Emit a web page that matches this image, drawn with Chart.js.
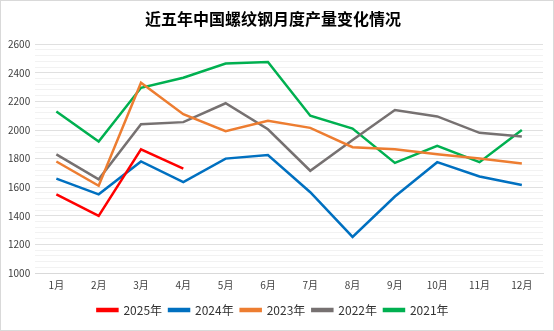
<!DOCTYPE html>
<html>
<head>
<meta charset="utf-8">
<script src="https://cdn.jsdelivr.net/npm/chart.js@4"></script>
<style>
  html, body { margin: 0; padding: 0; background: #fff; }
  #wrap { position: relative; width: 552px; height: 329px; border: 1px solid #d9d9d9; }
</style>
</head>
<body>
<div id="wrap"><canvas id="myChart" width="552" height="329"></canvas></div>
<script>
const months = ["1月", "2月", "3月", "4月", "5月", "6月", "7月", "8月", "9月", "10月", "11月", "12月"];
const y2025 = [1550, 1400, 1865, 1730];
const y2024 = [1660, 1550, 1780, 1635, 1800, 1825, 1565, 1252, 1535, 1775, 1675, 1615];
const y2023 = [1780, 1610, 2330, 2110, 1992, 2065, 2015, 1880, 1865, 1830, 1800, 1765];
const y2022 = [1830, 1655, 2040, 2055, 2187, 2005, 1715, 1930, 2140, 2095, 1980, 1955];
const y2021 = [2130, 1920, 2295, 2365, 2465, 2475, 2100, 2010, 1770, 1890, 1775, 2000];
const yTicks = [1000, 1200, 1400, 1600, 1800, 2000, 2200, 2400, 2600];

const font = "'Noto Sans CJK SC', 'Noto Sans', sans-serif";

function line(label, data, color) {
  return {
    label: label,
    data: data,
    borderColor: color,
    backgroundColor: color,
    borderWidth: 2.5,
    pointRadius: 0,
    tension: 0,
    fill: false
  };
}

var ctx = document.getElementById('myChart').getContext('2d');
var myChart = new Chart(ctx, {
  type: 'line',
  data: {
    labels: months,
    datasets: [
      line("2025年", y2025, "#FF0000"),
      line("2024年", y2024, "#0070C0"),
      line("2023年", y2023, "#ED7D31"),
      line("2022年", y2022, "#767171"),
      line("2021年", y2021, "#00B050")
    ]
  },
  options: {
    responsive: false,
    animation: false,
    layout: { padding: { left: 2, right: 10, top: 2, bottom: 4 } },
    plugins: {
      title: {
        display: true,
        text: "近五年中国螺纹钢月度产量变化情况",
        color: "#000",
        font: { family: font, size: 16, weight: "bold" },
        padding: { top: 6, bottom: 16 }
      },
      legend: {
        position: "bottom",
        labels: {
          boxWidth: 20,
          boxHeight: 2,
          color: "#333",
          font: { family: font, size: 12 },
          padding: 7
        }
      },
      tooltip: { enabled: false }
    },
    scales: {
      x: {
        offset: true,
        grid: { display: false, drawTicks: false },
        border: { color: "#d9d9d9" },
        ticks: { color: "#404040", font: { family: font, size: 10 }, padding: 6 }
      },
      y: {
        min: yTicks[0],
        max: yTicks[yTicks.length - 1],
        border: { display: false },
        grid: {
          color: c => (c.tick && c.tick.value % 200 === 0) ? "#e0e0e0" : "#f2f2f2",
          drawTicks: false
        },
        ticks: {
          stepSize: 40,
          autoSkip: false,
          padding: 5,
          color: "#404040",
          font: { family: font, size: 10 },
          callback: v => yTicks.includes(v) ? String(v) : ""
        }
      }
    }
  }
});
</script>
</body>
</html>
